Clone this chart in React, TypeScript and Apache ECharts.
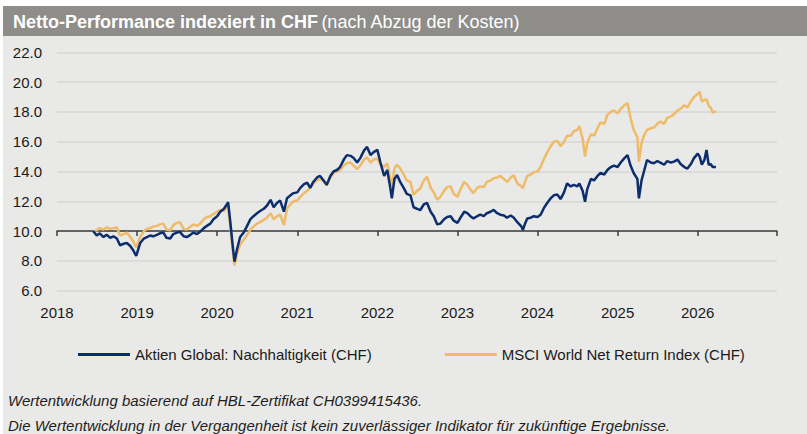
import React, { useEffect, useRef } from "react";
import * as echarts from "echarts";

const FONT = "'Liberation Sans', Arial, sans-serif";

const TITLE_BOLD = "Netto-Performance indexiert in CHF";
const TITLE_NORMAL = "(nach Abzug der Kosten)";
const SERIES_NAMES = ["Aktien Global: Nachhaltigkeit (CHF)", "MSCI World Net Return Index (CHF)"];
const FOOTNOTES = [
  "Wertentwicklung basierend auf HBL-Zertifikat CH0399415436.",
  "Die Wertentwicklung in der Vergangenheit ist kein zuverlässiger Indikator für zukünftige Ergebnisse.",
];
const YEAR_TICKS = [2018, 2019, 2020, 2021, 2022, 2023, 2024, 2025, 2026];
const Y_TICKS = [6, 8, 10, 12, 14, 16, 18, 20, 22];

const DATES = [
  "2018-06-15","2018-07-01","2018-07-15","2018-08-01","2018-08-15","2018-09-01","2018-09-15","2018-10-01","2018-10-15","2018-11-01","2018-11-15","2018-12-01","2018-12-15","2018-12-28",
  "2019-01-15","2019-02-01","2019-02-15","2019-03-01","2019-03-15","2019-04-01","2019-04-15","2019-05-01","2019-05-15","2019-06-01","2019-06-15","2019-07-01","2019-07-15","2019-08-01","2019-08-15","2019-09-01","2019-09-15","2019-10-01","2019-10-15","2019-11-01","2019-11-15","2019-12-01","2019-12-15",
  "2020-01-01","2020-01-15","2020-02-01","2020-02-10","2020-02-20","2020-03-01","2020-03-10","2020-03-20","2020-04-01","2020-04-15","2020-05-01","2020-05-15","2020-06-01","2020-06-15","2020-07-01","2020-07-15","2020-08-01","2020-08-15","2020-09-01","2020-09-15","2020-10-01","2020-10-15","2020-11-01","2020-11-15","2020-12-01","2020-12-15",
  "2021-01-01","2021-01-15","2021-02-01","2021-02-15","2021-03-01","2021-03-15","2021-04-01","2021-04-15","2021-05-01","2021-05-15","2021-06-01","2021-06-15","2021-07-01","2021-07-15","2021-08-01","2021-08-15","2021-09-01","2021-09-15","2021-10-01","2021-10-15","2021-11-01","2021-11-15","2021-12-01","2021-12-15",
  "2022-01-01","2022-01-15","2022-02-01","2022-02-15","2022-03-01","2022-03-08","2022-03-20","2022-04-01","2022-04-15","2022-05-01","2022-05-15","2022-06-01","2022-06-15","2022-07-01","2022-07-15","2022-08-01","2022-08-15","2022-09-01","2022-09-15","2022-10-01","2022-10-15","2022-11-01","2022-11-15","2022-12-01","2022-12-15",
  "2023-01-01","2023-01-15","2023-02-01","2023-02-15","2023-03-01","2023-03-15","2023-04-01","2023-04-15","2023-05-01","2023-05-15","2023-06-01","2023-06-15","2023-07-01","2023-07-15","2023-08-01","2023-08-15","2023-09-01","2023-09-15","2023-10-01","2023-10-20","2023-10-26","2023-11-05","2023-11-15","2023-12-01","2023-12-15",
  "2024-01-01","2024-01-15","2024-02-01","2024-02-15","2024-03-01","2024-03-15","2024-04-01","2024-04-15","2024-05-01","2024-05-15","2024-06-01","2024-06-15","2024-07-01","2024-07-10","2024-07-25","2024-08-05","2024-08-15","2024-09-01","2024-09-15","2024-10-01","2024-10-15","2024-11-01","2024-11-15","2024-12-01","2024-12-15",
  "2025-01-01","2025-01-15","2025-02-01","2025-02-15","2025-03-01","2025-03-15","2025-04-01","2025-04-08","2025-04-20","2025-05-01","2025-05-15","2025-06-01","2025-06-15","2025-07-01","2025-07-15","2025-08-01","2025-08-15","2025-09-01","2025-09-15","2025-10-01","2025-10-15","2025-11-01","2025-11-15","2025-12-01","2025-12-15",
  "2026-01-01","2026-01-10","2026-01-20","2026-02-01","2026-02-10","2026-02-20","2026-03-01","2026-03-10","2026-03-25",
];

const FUND = [
  10.0,9.7,9.85,9.6,9.75,9.55,9.65,9.5,9.05,9.15,9.2,9.0,8.7,8.33,
  9.2,9.5,9.6,9.7,9.65,9.75,9.85,9.9,9.55,9.5,9.8,9.9,9.95,9.65,9.6,9.75,9.9,9.8,9.95,10.2,10.35,10.5,10.8,
  11.0,11.3,11.5,11.7,11.95,10.6,9.3,7.95,8.8,9.6,9.9,10.3,10.8,11.0,11.2,11.35,11.5,11.7,12.1,11.6,11.9,12.05,11.3,12.2,12.4,12.55,
  12.6,12.9,13.15,13.25,12.9,13.3,13.6,13.7,13.4,13.1,13.7,14.0,14.1,14.3,14.8,15.1,15.05,14.9,14.6,14.9,15.4,15.65,15.1,15.3,
  15.45,14.6,13.7,14.1,12.9,12.2,13.5,13.77,13.3,12.9,12.5,12.4,11.6,11.5,11.4,11.8,11.9,11.3,11.0,10.45,10.5,10.8,10.95,11.0,10.7,
  10.55,10.9,11.3,11.2,11.0,10.85,11.0,11.1,11.0,11.2,11.3,11.42,11.2,11.1,11.05,10.9,11.05,10.9,10.6,10.3,10.07,10.5,10.85,10.9,11.0,
  10.95,11.1,11.6,11.9,12.2,12.4,12.45,12.15,12.6,13.2,13.0,13.1,13.0,13.2,12.7,11.97,12.8,13.5,13.4,13.7,13.9,13.8,14.1,14.3,14.4,
  14.3,14.6,14.9,15.1,14.4,13.9,13.5,12.2,13.4,14.0,14.77,14.6,14.55,14.7,14.6,14.45,14.7,14.6,14.66,14.8,14.5,14.3,14.2,14.5,14.9,
  15.2,15.0,14.45,14.8,15.45,14.45,14.5,14.3,14.3,
];

const INDEX = [
  10.0,10.05,10.2,10.1,10.25,10.15,10.2,10.25,9.7,9.8,9.9,9.6,9.3,8.9,
  9.6,10.0,10.15,10.2,10.3,10.35,10.45,10.5,10.1,10.05,10.4,10.55,10.6,10.15,10.1,10.3,10.45,10.35,10.5,10.8,10.95,11.0,11.15,
  11.3,11.4,11.35,11.5,11.6,10.3,9.0,7.7,8.5,9.1,9.4,9.7,10.1,10.3,10.5,10.6,10.75,10.9,11.2,10.8,11.0,11.1,10.4,11.5,11.8,12.0,
  12.05,12.3,12.55,12.7,12.9,13.2,13.4,13.5,13.35,13.1,13.6,13.9,14.0,14.1,14.4,14.55,14.6,14.4,14.15,14.4,14.8,14.95,14.6,14.8,
  14.85,14.5,14.3,14.55,13.5,12.98,14.2,14.45,14.2,13.8,13.4,13.3,12.45,12.7,12.85,13.4,13.65,12.9,12.6,12.1,12.3,12.7,12.95,13.0,12.5,
  12.3,12.8,13.3,13.1,12.8,12.55,12.9,13.0,12.95,13.3,13.4,13.55,13.6,13.7,13.5,13.3,13.6,13.75,13.2,13.0,12.87,13.3,13.7,13.8,13.95,
  14.0,14.3,14.9,15.3,15.7,16.0,16.05,15.7,16.0,16.4,16.4,16.7,16.8,17.05,16.2,15.0,15.9,16.5,16.4,16.9,17.3,17.2,17.8,18.0,18.1,
  17.9,18.2,18.45,18.6,17.6,16.8,16.3,14.66,15.9,16.4,16.8,16.9,16.95,17.2,17.35,17.2,17.6,17.7,17.85,18.1,18.2,18.45,18.3,18.7,19.0,
  19.2,19.35,18.7,18.8,18.85,18.4,18.3,17.95,18.05,
];

function toYear(d: string): number {
  const [y, m, day] = d.split("-").map(Number);
  const start = Date.UTC(y, 0, 1);
  const end = Date.UTC(y + 1, 0, 1);
  return y + (Date.UTC(y, m - 1, day) - start) / (end - start);
}

export default function App() {
  const ref = useRef<HTMLDivElement>(null);
  useEffect(() => {
    document.body.style.margin = "0";
    const chart = echarts.init(ref.current!, undefined, { renderer: "svg" });
    const xs = DATES.map(toYear);
    const fundData = xs.map((x, i) => [x, FUND[i]]);
    const indexData = xs.map((x, i) => [x, INDEX[i]]);
    const xBase = {
      type: "value" as const,
      min: YEAR_TICKS[0],
      max: 2026.99,
      interval: 1,
      splitLine: { show: false },
    };
    chart.setOption({
      animation: false,
      backgroundColor: "#ffffff",
      textStyle: { fontFamily: FONT },
      graphic: [
        { type: "rect", z: -10, shape: { x: 3, y: 6, width: 804, height: 428 }, style: { fill: "#e9e9e7" } },
        { type: "rect", z: -9, shape: { x: 3, y: 6, width: 804, height: 30 }, style: { fill: "#8e8d8a" } },
        {
          type: "text",
          x: 13,
          y: 22,
          style: {
            text: `{b|${TITLE_BOLD}} {n|${TITLE_NORMAL}}`,
            verticalAlign: "middle",
            rich: {
              b: { fontFamily: FONT, fontWeight: "bold", fontSize: 18, fill: "#ffffff" },
              n: { fontFamily: FONT, fontSize: 18, fill: "#ffffff" },
            },
          },
        },
        {
          type: "text",
          x: 8,
          y: 400,
          style: { text: FOOTNOTES[0], fontFamily: FONT, fontStyle: "italic", fontSize: 15, fill: "#1e1e1e", verticalAlign: "middle" },
        },
        {
          type: "text",
          x: 8,
          y: 425,
          style: { text: FOOTNOTES[1], fontFamily: FONT, fontStyle: "italic", fontSize: 15, fill: "#1e1e1e", verticalAlign: "middle" },
        },
      ],
      grid: { left: 57, right: 30, top: 52.3, bottom: 143.3 },
      legend: {
        left: 78,
        top: 347,
        width: 720,
        padding: 0,
        icon: "rect",
        itemWidth: 52,
        itemHeight: 3,
        itemGap: 73,
        textStyle: { fontFamily: FONT, fontSize: 15, color: "#1a1a1a", padding: [0, 0, 0, 0] },
        data: SERIES_NAMES,
      },
      xAxis: [
        {
          ...xBase,
          position: "bottom",
          axisLine: { show: false },
          axisTick: { show: false },
          axisLabel: {
            margin: 14,
            fontFamily: FONT,
            fontSize: 15,
            color: "#1a1a1a",
            formatter: (v: number) => (YEAR_TICKS.includes(Math.round(v)) ? String(Math.round(v)) : ""),
          },
        },
        {
          ...xBase,
          position: "bottom",
          offset: -59.6,
          axisLine: { show: true, lineStyle: { color: "#3c3c3c", width: 1.5 } },
          axisTick: { show: true, length: 5, lineStyle: { color: "#3c3c3c", width: 1.5 } },
          axisLabel: { show: false },
        },
      ],
      yAxis: {
        type: "value",
        min: Y_TICKS[0],
        max: Y_TICKS[Y_TICKS.length - 1],
        interval: 2,
        axisLine: { show: false },
        axisTick: { show: false },
        axisLabel: {
          margin: 15,
          fontFamily: FONT,
          fontSize: 15,
          color: "#1a1a1a",
          formatter: (v: number) => v.toFixed(1),
        },
        splitLine: { lineStyle: { color: "#d6d6d4", width: 1.5 } },
      },
      series: [
        {
          name: SERIES_NAMES[1],
          type: "line",
          xAxisIndex: 0,
          data: indexData,
          showSymbol: false,
          symbol: "none",
          lineStyle: { color: "#efbb69", width: 2.5 },
          itemStyle: { color: "#efbb69" },
          z: 3,
        },
        {
          name: SERIES_NAMES[0],
          type: "line",
          xAxisIndex: 0,
          data: fundData,
          showSymbol: false,
          symbol: "none",
          lineStyle: { color: "#0c2e6c", width: 2.5 },
          itemStyle: { color: "#0c2e6c" },
          z: 4,
        },
      ],
    });
    return () => chart.dispose();
  }, []);
  return <div ref={ref} style={{ position: "fixed", left: 0, top: 0, width: 807, height: 434 }} />;
}
